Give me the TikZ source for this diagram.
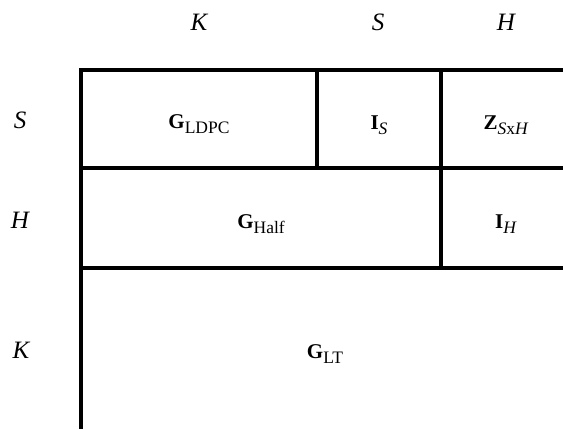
\documentclass[tikz,border=0pt]{standalone}
\usepackage{fontspec}
\setmainfont{Liberation Serif}
\usetikzlibrary{positioning}

\newcommand{\hdsz}{\fontsize{25}{28}\selectfont}
\newcommand{\bdsz}{\fontsize{21}{24}\selectfont}
\newcommand{\subsz}{\fontsize{17.5}{20}\selectfont}
\newcommand{\blk}[2]{\textbf{#1}\raisebox{-5pt}{\subsz #2}}

\begin{document}
\begin{tikzpicture}[x=1pt,y=-1pt,
    grid/.style={line width=3.8pt},
    hdr/.style={font=\hdsz\itshape, anchor=base, inner sep=0pt},
    blkl/.style={font=\bdsz, anchor=base, inner sep=0pt}]
\useasboundingbox (0,0) rectangle (563,429);

% corners of the blocks
\coordinate (c0) at (81,70);
\coordinate (c1) at (317,70);
\coordinate (c2) at (441,70);
\coordinate (c3) at (563,70);
\coordinate (r1) at (81,168);
\coordinate (r1e) at (563,168);
\coordinate (r2) at (81,268);
\coordinate (r2e) at (563,268);
\coordinate (bot) at (81,429);

\draw[grid] (c3) -- (c0) -- (bot);
\draw[grid] (r1) -- (r1e);
\draw[grid] (r2) -- (r2e);
\draw[grid] (c1) -- (c1 |- r1);
\draw[grid] (c2) -- (c2 |- r2);

% column and row sizes
\node[hdr] (hK) at (199,30) {K};
\node[hdr] (hS) at (378,30) {S};
\node[hdr] (hH) at (506,30) {H};
\node[hdr] (rS) at (20,128) {S};
\node[hdr] (rH) at (20,228) {H};
\node[hdr] (rK) at (21,358) {K};

% blocks
\node[blkl] (gldpc) at (199,128) {\blk{G}{LDPC}};
\node[blkl] (is) at (379,129) {\blk{I}{\textit{S}}};
\node[blkl] (zsh) at (506,129) {\blk{Z}{\textit{S}x\textit{H}}};
\node[blkl] (ghalf) at (261,228) {\blk{G}{Half}};
\node[blkl] (ih) at (506,228) {\blk{I}{\textit{H}}};
\node[blkl] (glt) at (325,358) {\blk{G}{LT}};
\end{tikzpicture}
\end{document}
